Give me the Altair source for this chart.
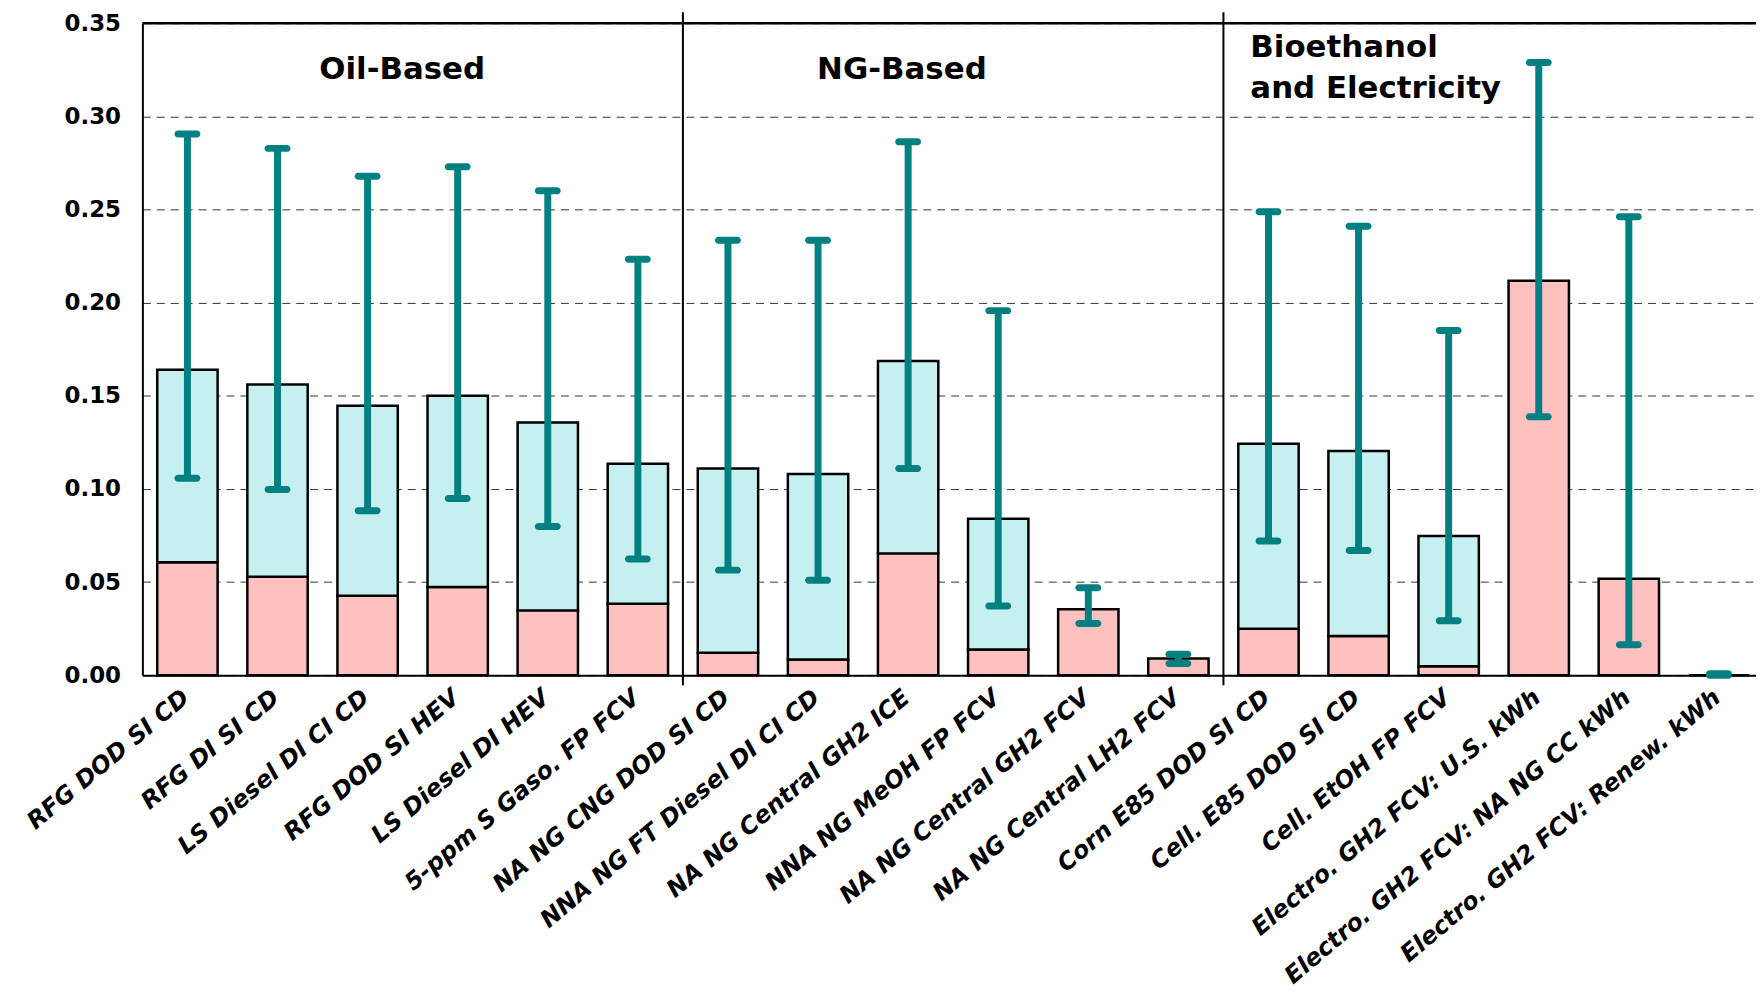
import altair as alt
import pandas as pd

cats = ["RFG DOD SI CD", "RFG DI SI CD", "LS Diesel DI CI CD", "RFG DOD SI HEV",
        "LS Diesel DI HEV", "5-ppm S Gaso. FP FCV", "NA NG CNG DOD SI CD",
        "NNA NG FT Diesel DI CI CD", "NA NG Central GH2 ICE", "NNA NG MeOH FP FCV",
        "NA NG Central GH2 FCV", "NA NG Central LH2 FCV", "Corn E85 DOD SI CD",
        "Cell. E85 DOD SI CD", "Cell. EtOH FP FCV", "Electro. GH2 FCV: U.S. kWh",
        "Electro. GH2 FCV: NA NG CC kWh", "Electro. GH2 FCV: Renew. kWh"]
pink = [0.0606, 0.0528, 0.0426, 0.0474, 0.0348, 0.0384, 0.0120, 0.0084, 0.0654, 0.0138,
        0.0354, 0.0090, 0.0250, 0.0211, 0.0048, 0.2118, 0.0518, 0.0]
total = [0.1640, 0.1560, 0.1447, 0.1500, 0.1357, 0.1135, 0.1110, 0.1080, 0.1687, 0.0840,
         0.0354, 0.0090, 0.1243, 0.1203, 0.0747, 0.2118, 0.0518, 0.0]
err_hi = [0.2905, 0.2828, 0.2678, 0.2729, 0.2600, 0.2233, 0.2335, 0.2335, 0.2864, 0.1957,
          0.0469, 0.0113, 0.2488, 0.2410, 0.1850, 0.3289, 0.2461, 0.0008]
err_lo = [0.1057, 0.0997, 0.0883, 0.0949, 0.0798, 0.0624, 0.0564, 0.0510, 0.1110, 0.0372,
          0.0277, 0.0063, 0.0720, 0.0670, 0.0292, 0.1387, 0.0163, 0.0]
separators = [cats[6], cats[12]]
group_titles = ["Oil-Based", "NG-Based"]
group3_title = ["Bioethanol", "and Electricity"]
y_ticks = [0.0, 0.05, 0.10, 0.15, 0.20, 0.25, 0.30, 0.35]

df = pd.DataFrame({"cat": cats, "pink": pink, "total": total, "hi": err_hi, "lo": err_lo})
df_cyan = df[df["total"] > df["pink"]]

PAD_L, PAD_T = 135, 13
W, H = 1764 - 8 - PAD_L, 655          # visible view
XR = 1629                              # x range runs past the window edge, as in the original
PAD_B = 988 - PAD_T - H
step = XR / len(cats)
FONT = "DejaVu Sans"

xenc = alt.X("cat:N", sort=cats,
             scale=alt.Scale(paddingInner=0.33, paddingOuter=0.165, range=[0, XR]),
             axis=alt.Axis(title=None, labelAngle=-40, labelFont=FONT, labelFontWeight="bold",
                           labelFontStyle="italic", labelFontSize=24, labelColor="black",
                           ticks=False, domainColor="black", domainWidth=2,
                           labelPadding=10, labelLimit=0, labelOffset=-9))
yscale = alt.Scale(domain=[0, 0.35], nice=False)
yaxis = alt.Axis(title=None, format=".2f", values=y_ticks, labelFont=FONT,
                 labelFontWeight="bold", labelFontSize=23, labelColor="black",
                 grid=True, gridDash=[8, 6], gridColor="#333333", gridWidth=1,
                 ticks=False, domainColor="black", domainWidth=2, labelPadding=22)

pink_bars = alt.Chart(df).mark_bar(color="#FFC0C0", stroke="black", strokeWidth=2.5).encode(
    x=xenc, y=alt.Y("pink:Q", scale=yscale, axis=yaxis))
cyan_bars = alt.Chart(df_cyan).mark_bar(color="#C6F0F0", stroke="black", strokeWidth=2.5).encode(
    x=alt.X("cat:N", sort=cats), y=alt.Y("pink:Q"), y2="total:Q")
err = alt.Chart(df).mark_rule(color="#008080", strokeWidth=7).encode(
    x=alt.X("cat:N", sort=cats), y="lo:Q", y2="hi:Q")
cap_hi = alt.Chart(df).mark_tick(color="#008080", thickness=7, size=26, cornerRadius=3.5,
                                 opacity=1).encode(x=alt.X("cat:N", sort=cats), y="hi:Q")
cap_lo = alt.Chart(df).mark_tick(color="#008080", thickness=7, size=26, cornerRadius=3.5,
                                 opacity=1).encode(x=alt.X("cat:N", sort=cats), y="lo:Q")
sep = alt.Chart(pd.DataFrame({"cat": separators})).mark_rule(
    color="black", strokeWidth=2, xOffset=-step / 2).encode(
    x=alt.X("cat:N", sort=cats), y=alt.value(-11), y2=alt.value(H + 10))
top_border = alt.Chart(pd.DataFrame({"cat": [cats[0]]})).mark_rule(
    color="black", strokeWidth=2.5).encode(x=alt.value(0), x2=alt.value(XR), y=alt.value(0))

tf = dict(font=FONT, fontWeight="bold", fontSize=31, baseline="middle", color="black")
t1 = alt.Chart(pd.DataFrame({"t": [group_titles[0]]})).mark_text(align="center", **tf).encode(
    text="t:N", x=alt.value(261), y=alt.value(47))
t2 = alt.Chart(pd.DataFrame({"t": [group_titles[1]]})).mark_text(align="center", **tf).encode(
    text="t:N", x=alt.value(763), y=alt.value(47))
t3 = alt.Chart(pd.DataFrame({"t": [group3_title[0]]})).mark_text(align="left", **tf).encode(
    text="t:N", x=alt.value(1113), y=alt.value(25))
t4 = alt.Chart(pd.DataFrame({"t": [group3_title[1]]})).mark_text(align="left", **tf).encode(
    text="t:N", x=alt.value(1113), y=alt.value(66))

chart = alt.layer(pink_bars, cyan_bars, err, cap_hi, cap_lo, sep, top_border,
                  t1, t2, t3, t4).properties(
    width=W, height=H,
    autosize=alt.AutoSizeParams(type="none"),
    padding={"left": PAD_L, "top": PAD_T, "right": 0, "bottom": PAD_B}
).configure_view(stroke=None).configure(background="white")

chart.save("out.html", embed_options={"renderer": "svg", "actions": False})
